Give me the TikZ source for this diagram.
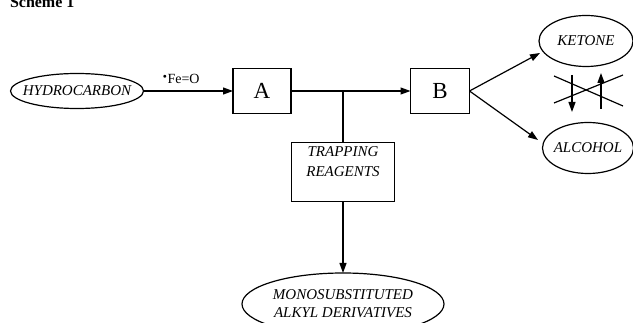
\documentclass[tikz,border=0pt]{standalone}
\usepackage{fontspec}
\setmainfont{Liberation Serif}
\usetikzlibrary{shapes.geometric,arrows.meta}
\begin{document}
\begin{tikzpicture}[x=1pt,y=-1pt,
  every node/.style={inner sep=0pt, outer sep=0pt},
  ell/.style={draw, line width=1.2pt, ellipse, minimum width=#1},
  lbl/.style={font=\fontsize{15}{16}\selectfont\itshape, align=center},
  boxn/.style={draw, line width=1.2pt, minimum width=58pt, minimum height=45pt, font=\fontsize{23}{24}\selectfont},
  conn/.style={line width=1.2pt},
  arr/.style={line width=1.2pt, -{Triangle[length=10pt,width=7pt]}}]
\useasboundingbox (0,0) rectangle (633,323);
\clip (0,0) rectangle (633,323);
\node[anchor=base west, font=\fontsize{16}{18}\selectfont\bfseries] (title) at (10,8) {Scheme 1};
\node[ell=133pt, minimum height=35pt, lbl, inner xsep=-8pt] (hc) at (77,91) {HYDROCARBON};
\node[boxn] (A) at (262,91) {A};
\node[boxn, minimum width=59pt] (B) at (440,91) {B};
\node[ell=94pt, minimum height=51pt, lbl] (ket) at (586,41) {KETONE};
\node[ell=91pt, minimum height=51pt, lbl, inner xsep=-4pt] (alc) at (588,148) {ALCOHOL};
\node[draw, line width=1.2pt, minimum width=103pt, minimum height=59pt, lbl, text height=10pt] (trap) at (343,172) {TRAPPING\\[4pt]REAGENTS};
\node[ell=202pt, minimum height=62pt, lbl, inner xsep=-4pt] (mono) at (343,304) {MONOSUBSTITUTED\\[2pt]ALKYL DERIVATIVES};
\coordinate (j) at (trap.north |- A.east);
\draw[arr] (hc.east) -- node[above=7pt, font=\fontsize{14}{15}\selectfont, xshift=-7pt] (fe) {$^{\scriptscriptstyle\bullet}$Fe=O} (A.west);
\draw[arr] (A.east) -- (B.west);
\draw[conn] (j) -- (trap.north);
\draw[arr] (trap.south) -- (mono.north);
\draw[arr] (B.east) -- (540,53);
\draw[arr] (B.east) -- (538,140);
\coordinate (x1) at (554,76);
\coordinate (x2) at (623,106);
\coordinate (x3) at (554,103);
\coordinate (x4) at (623,75);
\draw[conn] (x1) -- (x2);
\draw[conn] (x3) -- (x4);
\coordinate (d1) at (572,75);
\coordinate (d2) at (572,112);
\coordinate (u1) at (601,109);
\coordinate (u2) at (601,73);
\draw[arr] (d1) -- (d2);
\draw[arr] (u1) -- (u2);
\end{tikzpicture}
\end{document}
